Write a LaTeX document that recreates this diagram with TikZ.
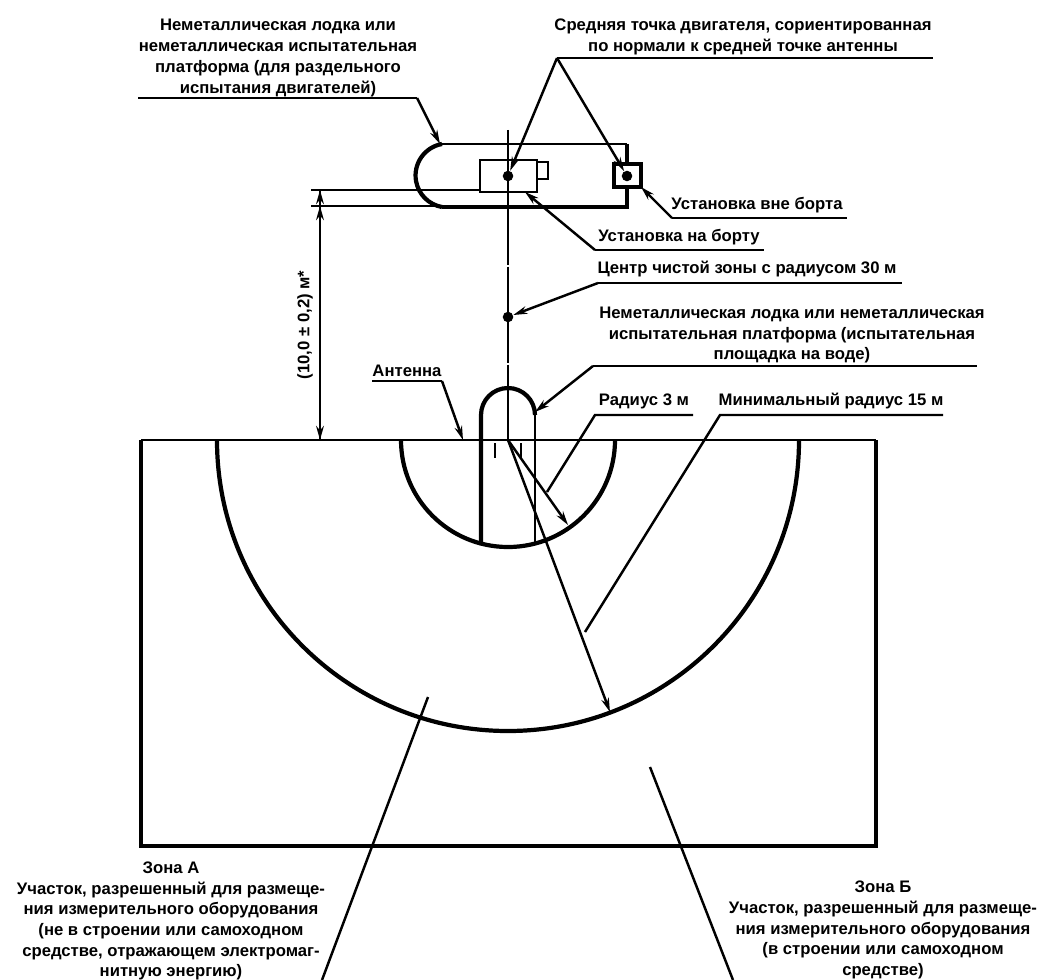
\documentclass[tikz,border=0pt]{standalone}
\usepackage{fontspec}
\setmainfont{Liberation Sans}
\usetikzlibrary{arrows.meta}
\tikzset{
	thinline/.style={line width=1.2pt},
	midline/.style={line width=1.7pt},
	thickline/.style={line width=2.4pt},
	leader/.style={line width=1.4pt},
	leadertip/.style={leader, -{Stealth[length=8pt,width=4.4pt]}},
	labeltext/.style={inner sep=0pt, align=center, font=\fontsize{9.5}{11.8}\selectfont\bfseries},
	dot/.style={circle, fill=black, inner sep=0pt, minimum size=6pt}
}

\begin{document}
\begin{tikzpicture}[x=0.02cm, y=-0.02cm]
			%%%%% START %%%%%
			\useasboundingbox (0, 0) rectangle (1038, 980);
			
			% named points
			\coordinate (mid) at (508, 440);
			\coordinate (lineTop) at (508, 130);
			\coordinate (upDim) at (320, 190);
			\coordinate (lowDim) at (320, 206);
			\coordinate (footDim) at (320, 440);
			
			% zones
			\draw[thinline] (141, 440) -- (876, 440);
			\draw[thickline] (141, 440) -- (141, 846) -- (876, 846) -- (876, 440);
			\draw[thickline] (217, 440) arc (180:0:291);
			\draw[thickline] (401, 440) arc (180:0:107);
			
			% boat on water
			\draw[thickline] (481, 545) -- (481, 415) arc (180:360:27);
			\draw[midline] (535, 415) -- (535, 545);
			
			% boat for separate test
			\draw[midline] (442, 144) -- (627, 144);
			\draw[thickline] (627, 144) -- (627, 207) -- (442, 207);
			\draw[thickline] (442, 144) arc (-100:-260:32);
			\draw[midline] (480, 160) rectangle (537, 192);
			\draw[midline] (537, 162) rectangle (548, 179);
			\draw[thickline, fill=white] (614, 164) rectangle (641, 187);
			\node[dot] (engineOn) at (508, 176) {};
			\node[dot] (engineOff) at (627, 176) {};
			\node[dot] (zoneCentre) at (508, 317) {};
			
			% centre line and radii
			\draw[thinline, dash pattern=on 76.6pt off 1.2pt on 54.6pt off 1.2pt on 60pt] (lineTop) -- (mid);
			\draw[thinline] (495, 443) -- (495, 458);
			\draw[thinline] (521, 443) -- (521, 458);
			\coordinate (smallEnd) at (568, 525);
			\coordinate (bigEnd) at (610, 712);
			\draw[leadertip] (mid) -- (smallEnd);
			\draw[leadertip] (mid) -- (bigEnd);
			
			% dimension
			\draw[thinline] (311, 190) -- (480, 190);
			\draw[thinline] (311, 206) -- (442, 206);
			\draw[leader] (upDim) -- (footDim);
			\draw[leadertip] (320, 204) -- (lowDim |- upDim);
			\draw[leadertip] (320, 226) -- (lowDim);
			\draw[leadertip] (320, 420) -- (footDim);
			\node[labeltext, rotate=90] (dimText) at (305, 325) {(10,0 ± 0,2) м*};
			
			% labels and leaders
			\node[labeltext] (boatTest) at (278, 58) {Неметаллическая лодка или\\неметаллическая испытательная\\платформа (для раздельного\\испытания двигателей)};
			\coordinate (boatTestL) at (138, 98);
			\coordinate (boatTestR) at (417, 98);
			\coordinate (boatTestTip) at (440, 144);
			\draw[leader] (boatTestL) -- (boatTestR);
			\draw[leadertip] (boatTestR) -- (boatTestTip);
			
			\node[labeltext] (enginePoint) at (743, 37) {Средняя точка двигателя, сориентированная\\по нормали к средней точке антенны};
			\coordinate (enginePointL) at (557, 58);
			\coordinate (enginePointR) at (933, 58);
			\draw[leader] (enginePointL) -- (enginePointR);
			\draw[leadertip] (enginePointL) -- (engineOn);
			\draw[leadertip] (enginePointL) -- (engineOff);
			
			\node[labeltext] (outboard) at (757, 205) {Установка вне борта};
			\coordinate (outboardL) at (672, 218);
			\coordinate (outboardR) at (847, 218);
			\coordinate (outboardTip) at (641, 187);
			\draw[leader] (outboardL) -- (outboardR);
			\draw[leadertip] (outboardL) -- (outboardTip);
			
			\node[labeltext] (inboard) at (679, 237) {Установка на борту};
			\coordinate (inboardL) at (595, 250);
			\coordinate (inboardR) at (764, 250);
			\coordinate (inboardTip) at (525, 192);
			\draw[leader] (inboardL) -- (inboardR);
			\draw[leadertip] (inboardL) -- (inboardTip);
			
			\node[labeltext] (centreText) at (747, 269) {Центр чистой зоны с радиусом 30 м};
			\coordinate (centreL) at (598, 283);
			\coordinate (centreR) at (902, 283);
			\draw[leader] (centreL) -- (centreR);
			\draw[leadertip] (centreL) -- (zoneCentre);
			
			\node[labeltext] (boatWater) at (792, 335) {Неметаллическая лодка или неметаллическая\\испытательная платформа (испытательная\\площадка на воде)};
			\coordinate (boatWaterL) at (593, 366);
			\coordinate (boatWaterR) at (977, 366);
			\coordinate (boatWaterTip) at (535, 412);
			\draw[leader] (boatWaterL) -- (boatWaterR);
			\draw[leadertip] (boatWaterL) -- (boatWaterTip);
			
			\node[labeltext] (radiusSmall) at (644, 401) {Радиус 3 м};
			\coordinate (radiusSmallL) at (595, 415);
			\coordinate (radiusSmallR) at (693, 415);
			\coordinate (radiusSmallEnd) at (547, 492);
			\draw[leader] (radiusSmallR) -- (radiusSmallL) -- (radiusSmallEnd);
			
			\node[labeltext] (radiusBig) at (831, 401) {Минимальный радиус 15 м};
			\coordinate (radiusBigL) at (720, 415);
			\coordinate (radiusBigR) at (943, 415);
			\coordinate (radiusBigEnd) at (585, 632);
			\draw[leader] (radiusBigR) -- (radiusBigL) -- (radiusBigEnd);
			
			\node[labeltext] (antenna) at (407, 371) {Антенна};
			\coordinate (antennaL) at (372, 381);
			\coordinate (antennaR) at (442, 381);
			\coordinate (antennaTip) at (463, 440);
			\draw[leader] (antennaL) -- (antennaR);
			\draw[leadertip] (antennaR) -- (antennaTip);
			
			\node[labeltext] (zoneA) at (171, 921) {Зона А\\Участок, разрешенный для размеще-\\ния измерительного оборудования\\(не в строении или самоходном\\средстве, отражающем электромаг-\\нитную энергию)};
			\coordinate (zoneAStart) at (428, 697);
			\coordinate (zoneAEnd) at (322, 980);
			\draw[leader] (zoneAStart) -- (zoneAEnd);
			
			\node[labeltext] (zoneB) at (883, 930) {Зона Б\\Участок, разрешенный для размеще-\\ния измерительного оборудования\\(в строении или самоходном\\средстве)};
			\coordinate (zoneBStart) at (650, 767);
			\coordinate (zoneBEnd) at (733, 980);
			\draw[leader] (zoneBStart) -- (zoneBEnd);
			
			%%%%% END %%%%%
		\end{tikzpicture}
\end{document}
